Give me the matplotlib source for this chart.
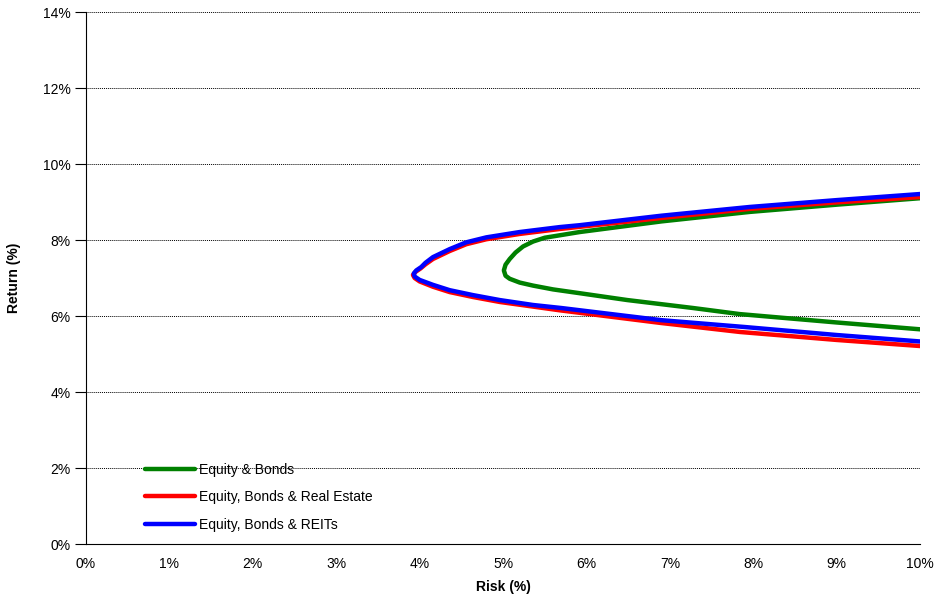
import numpy as np
import matplotlib.pyplot as plt

plt.rcParams['font.family'] = ['Liberation Sans', 'DejaVu Sans']

# risk (%) and return (%) read along each frontier, lower branch -> upper branch
eb_risk = [10.0, 9.0, 7.84, 7.28, 6.49, 5.92, 5.6, 5.36, 5.2, 5.08, 5.03, 5.01, 5.03, 5.08, 5.15, 5.24, 5.36, 5.5, 5.92, 6.9, 7.96, 9.0, 10.0]
eb_ret = [5.65, 5.83, 6.05, 6.21, 6.42, 6.60, 6.70, 6.80, 6.88, 6.98, 7.06, 7.20, 7.35, 7.50, 7.67, 7.83, 7.96, 8.06, 8.21, 8.49, 8.74, 8.93, 9.10]

ebre_risk = [10.0, 9.0, 7.84, 6.88, 5.68, 4.96, 4.64, 4.36, 4.16, 4.0, 3.94, 3.92, 3.95, 4.01, 4.07, 4.16, 4.36, 4.56, 4.8, 5.2, 5.68, 6.9, 7.96, 9.0, 10.0]
ebre_ret = [5.21, 5.37, 5.58, 5.82, 6.15, 6.37, 6.50, 6.63, 6.77, 6.91, 7.00, 7.08, 7.16, 7.25, 7.36, 7.50, 7.71, 7.89, 8.02, 8.16, 8.29, 8.58, 8.82, 8.99, 9.13]

ebreit_risk = [10.0, 9.0, 7.9, 6.9, 5.7, 5.36, 4.96, 4.64, 4.36, 4.16, 4.0, 3.94, 3.93, 3.96, 4.02, 4.07, 4.16, 4.36, 4.56, 4.8, 5.2, 5.68, 5.92, 6.9, 7.96, 9.0, 10.0]
ebreit_ret = [5.33, 5.50, 5.71, 5.89, 6.21, 6.29, 6.42, 6.55, 6.68, 6.82, 6.95, 7.04, 7.12, 7.20, 7.29, 7.40, 7.55, 7.76, 7.94, 8.07, 8.21, 8.34, 8.39, 8.64, 8.87, 9.05, 9.21]

x_ticks = np.arange(0, 11, 1)
y_ticks = np.arange(0, 15, 2)

fig = plt.figure(figsize=(9.35, 5.98), dpi=100)
ax = fig.add_axes([0.092, 0.0903, 0.892, 0.8896])

ax.plot(eb_risk, eb_ret, color='#008000', linewidth=3.2, label='Equity & Bonds', solid_capstyle='round', solid_joinstyle='round')
ax.plot(ebre_risk, ebre_ret, color='#FF0000', linewidth=3.2, label='Equity, Bonds & Real Estate', solid_capstyle='round', solid_joinstyle='round')
ax.plot(ebreit_risk, ebreit_ret, color='#0000FF', linewidth=3.2, label='Equity, Bonds & REITs', solid_capstyle='round', solid_joinstyle='round')

ax.set_xlim(0, 10)
ax.set_ylim(0, 14)
ax.set_xticks(x_ticks)
ax.set_xticklabels(['%d%%' % t for t in x_ticks], fontsize=10)
ax.set_yticks(y_ticks)
ax.set_yticklabels(['%d%%' % t for t in y_ticks], fontsize=10)
ax.tick_params(axis='y', direction='out', length=8, width=0.8, pad=3)
ax.tick_params(axis='x', length=0, pad=9)

ax.yaxis.grid(True, linestyle=(0, (1, 1)), color='black', linewidth=0.7)
ax.set_axisbelow(True)
ax.spines['top'].set_visible(False)
ax.spines['right'].set_visible(False)

ax.set_xlabel('Risk (%)', fontsize=10, fontweight='bold', labelpad=7)
ax.set_ylabel('Return (%)', fontsize=10, fontweight='bold', labelpad=16)

ax.legend(loc='lower left', bbox_to_anchor=(0.056, 0.0), frameon=False, fontsize=10,
          handlelength=3.6, handletextpad=0.3, labelspacing=0.95)

plt.savefig('out.png', dpi=100)
